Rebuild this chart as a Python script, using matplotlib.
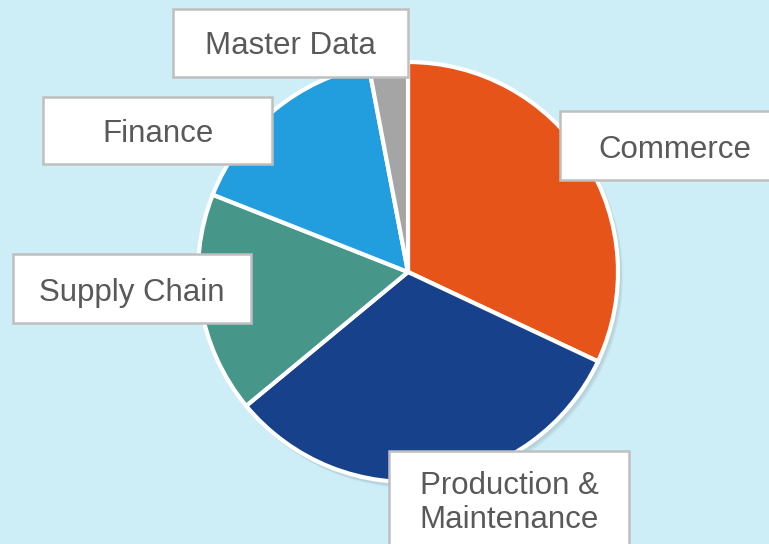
import matplotlib.pyplot as plt
from matplotlib.patches import Rectangle, Circle

labels = ["Commerce", "Production &\nMaintenance", "Supply Chain", "Finance", "Master Data"]
values = [32, 32, 17, 16, 3]
colors = ["#E6541A", "#17418A", "#46968A", "#229DDE", "#A5A5A5"]

# label boxes in pixel coords (x0, y0 top, x1, y1 bottom)
boxes = {
    "Commerce": (560, 111, 775, 180),
    "Production &\nMaintenance": (389, 451, 629, 560),
    "Supply Chain": (13, 254, 251, 323),
    "Finance": (43, 97, 272, 164),
    "Master Data": (173, 9, 408, 77),
}
text_pos = {
    "Commerce": (675, 150),
    "Production &\nMaintenance": (509, 503),
    "Supply Chain": (132, 293),
    "Finance": (158, 134),
    "Master Data": (290, 46),
}

W, H = 769, 544
bg = "#CDEDF7"

fig = plt.figure(figsize=(W / 100, H / 100), dpi=100, facecolor=bg)
ax = fig.add_axes([0, 0, 1, 1])
ax.set_facecolor(bg)

cx, cy, r = 408, H - 272, 210

# soft shadow
for i, a in enumerate([0.07, 0.07, 0.07]):
    ax.add_patch(Circle((cx + 2 + i, cy - 3 - i), r + 1, color="#5a6a70", alpha=a, lw=0, zorder=1))

ax.pie(values, colors=colors, startangle=90, counterclock=False, center=(cx, cy), radius=r,
       wedgeprops=dict(edgecolor="white", linewidth=3), frame=True)
ax.set_xlim(0, W)
ax.set_ylim(0, H)
ax.set_aspect("equal")
ax.axis("off")

for lab in labels:
    x0, y0, x1, y1 = boxes[lab]
    ax.add_patch(Rectangle((x0, H - y1), x1 - x0, y1 - y0, facecolor="white",
                           edgecolor="#BFBFBF", linewidth=1.8, zorder=5))
    tx, ty = text_pos[lab]
    ax.text(tx, H - ty, lab, ha="center", va="center", fontsize=22.5, color="#595959",
            family="Liberation Sans", linespacing=1.2, zorder=6)

fig.savefig("out.png", dpi=100, facecolor=bg)
